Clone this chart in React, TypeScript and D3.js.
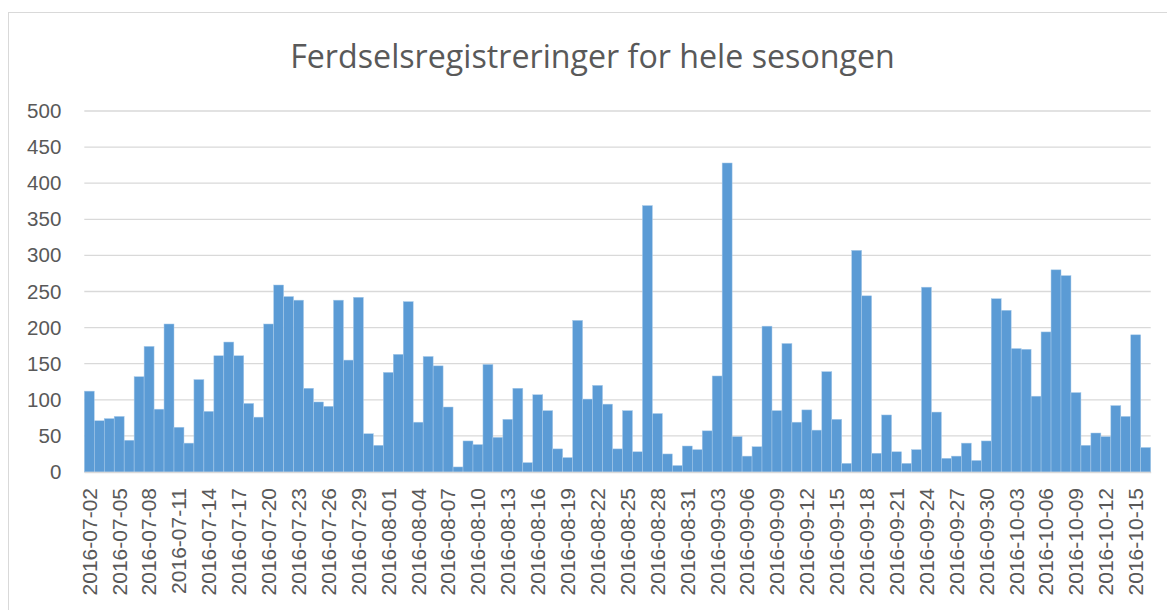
import * as d3 from 'd3';
import React, { useEffect, useRef } from 'react';

// daily counts, one array per month
const julyDays = ['02','03','04','05','06','07','08','09','10','11','12','13','14','15','16','17','18','19','20','21','22','23','24','25','26','27','28','29','30','31'];
const augDays = ['01','02','03','04','05','06','07','08','09','10','11','12','13','14','15','16','17','18','19','20','21','22','23','24','25','26','27','28','29','30','31'];
const sepDays = ['01','02','03','04','05','06','07','08','09','10','11','12','13','14','15','16','17','18','19','20','21','22','23','24','25','26','27','28','29','30'];
const octDays = ['01','02','03','04','05','06','07','08','09','10','11','12','13','14','15','16'];

const julyValues = [112, 71, 74, 77, 44, 132, 174, 87, 205, 62, 40, 128, 84, 161, 180, 161, 95, 76, 205, 259, 243, 238, 116, 97, 91, 238, 155, 242, 53, 37];
const augValues = [138, 163, 236, 69, 160, 147, 90, 7, 43, 38, 149, 48, 73, 116, 13, 107, 85, 32, 20, 210, 101, 120, 94, 32, 85, 28, 369, 81, 25, 9, 36];
const sepValues = [31, 57, 133, 428, 49, 22, 35, 202, 85, 178, 69, 86, 58, 139, 73, 12, 307, 244, 26, 79, 28, 12, 31, 256, 83, 19, 22, 40, 16, 43];
const octValues = [240, 224, 171, 170, 105, 194, 280, 272, 110, 37, 54, 49, 92, 77, 190, 34];

const yTicks = [0, 50, 100, 150, 200, 250, 300, 350, 400, 450, 500];
const title = 'Ferdselsregistreringer for hele sesongen';

const dates = [
    ...julyDays.map((d) => '2016-07-' + d),
    ...augDays.map((d) => '2016-08-' + d),
    ...sepDays.map((d) => '2016-09-' + d),
    ...octDays.map((d) => '2016-10-' + d),
];
const values = [...julyValues, ...augValues, ...sepValues, ...octValues];

const App = () => {
    const ref = useRef(null);
    const W = 1167, H = 610;
    const margin = { top: 111, right: 16, bottom: 138, left: 84.3 };
    const barColor = '#5B9BD5';
    const gridColor = '#D9D9D9';
    const textColor = '#595959';

    useEffect(() => {
        const svg = d3.select(ref.current);
        svg.selectAll('*').remove();

        const width = 1150.7 - margin.left;
        const height = 472 - margin.top;

        const data = dates.map((d, i) => ({ x: d, y: values[i] }));

        const x = d3.scaleBand().domain(dates).range([0, width]).padding(0);
        const y = d3.scaleLinear().domain([0, 500]).range([height, 0]);

        // chart frame
        svg.append('rect')
            .attr('x', 8.5).attr('y', 12.5)
            .attr('width', 1180).attr('height', 640)
            .attr('fill', '#fff')
            .attr('stroke', gridColor)
            .attr('stroke-width', 1);

        svg.append('text')
            .attr('x', 592.5)
            .attr('y', 68)
            .attr('text-anchor', 'middle')
            .attr('font-family', 'Open Sans, sans-serif')
            .attr('font-size', 32.2)
            .attr('fill', textColor)
            .text(title);

        const g = svg.append('g')
            .attr('transform', 'translate(' + margin.left + ',' + margin.top + ')');

        // gridlines
        g.append('g')
            .selectAll('line')
            .data(yTicks)
            .enter().append('line')
            .attr('x1', 0).attr('x2', width)
            .attr('y1', (d) => y(d)).attr('y2', (d) => y(d))
            .attr('stroke', gridColor)
            .attr('stroke-width', 1.3);

        // bars
        g.selectAll('.bar')
            .data(data)
            .enter().append('rect')
            .attr('class', 'bar')
            .attr('x', (d) => x(d.x))
            .attr('width', x.bandwidth())
            .attr('y', (d) => y(d.y))
            .attr('height', (d) => height - y(d.y))
            .attr('fill', barColor)
            .attr('stroke', '#A9CBEA')
            .attr('stroke-width', 0.5);

        // y axis
        const yAxis = g.append('g').call(d3.axisLeft(y).tickValues(yTicks).tickSize(0).tickPadding(23));
        yAxis.select('.domain').remove();
        yAxis.selectAll('text')
            .attr('font-family', 'Liberation Sans, Arial, sans-serif')
            .attr('font-size', 20.5)
            .attr('fill', textColor);

        // x axis, every third date
        const shown = dates.filter((d, i) => i % 3 === 0);
        const xAxis = g.append('g')
            .attr('transform', 'translate(0,' + height + ')')
            .call(d3.axisBottom(x).tickValues(shown).tickSize(0).tickPadding(0));
        xAxis.select('.domain').attr('stroke', gridColor).attr('stroke-width', 1.3);
        xAxis.selectAll('text')
            .attr('font-family', 'Liberation Sans, Arial, sans-serif')
            .attr('font-size', 21)
            .attr('fill', textColor)
            .attr('transform', 'rotate(-90)')
            .attr('text-anchor', 'end')
            .attr('dy', '0.35em')
            .attr('x', -16)
            .attr('y', 0);
    }, []);

    return (
        <div>
            <svg ref={ref} width={W} height={H} style={{ position: 'absolute', left: 0, top: 0, background: '#fff' }}>
            </svg>
        </div>
    );
};

export default App;
